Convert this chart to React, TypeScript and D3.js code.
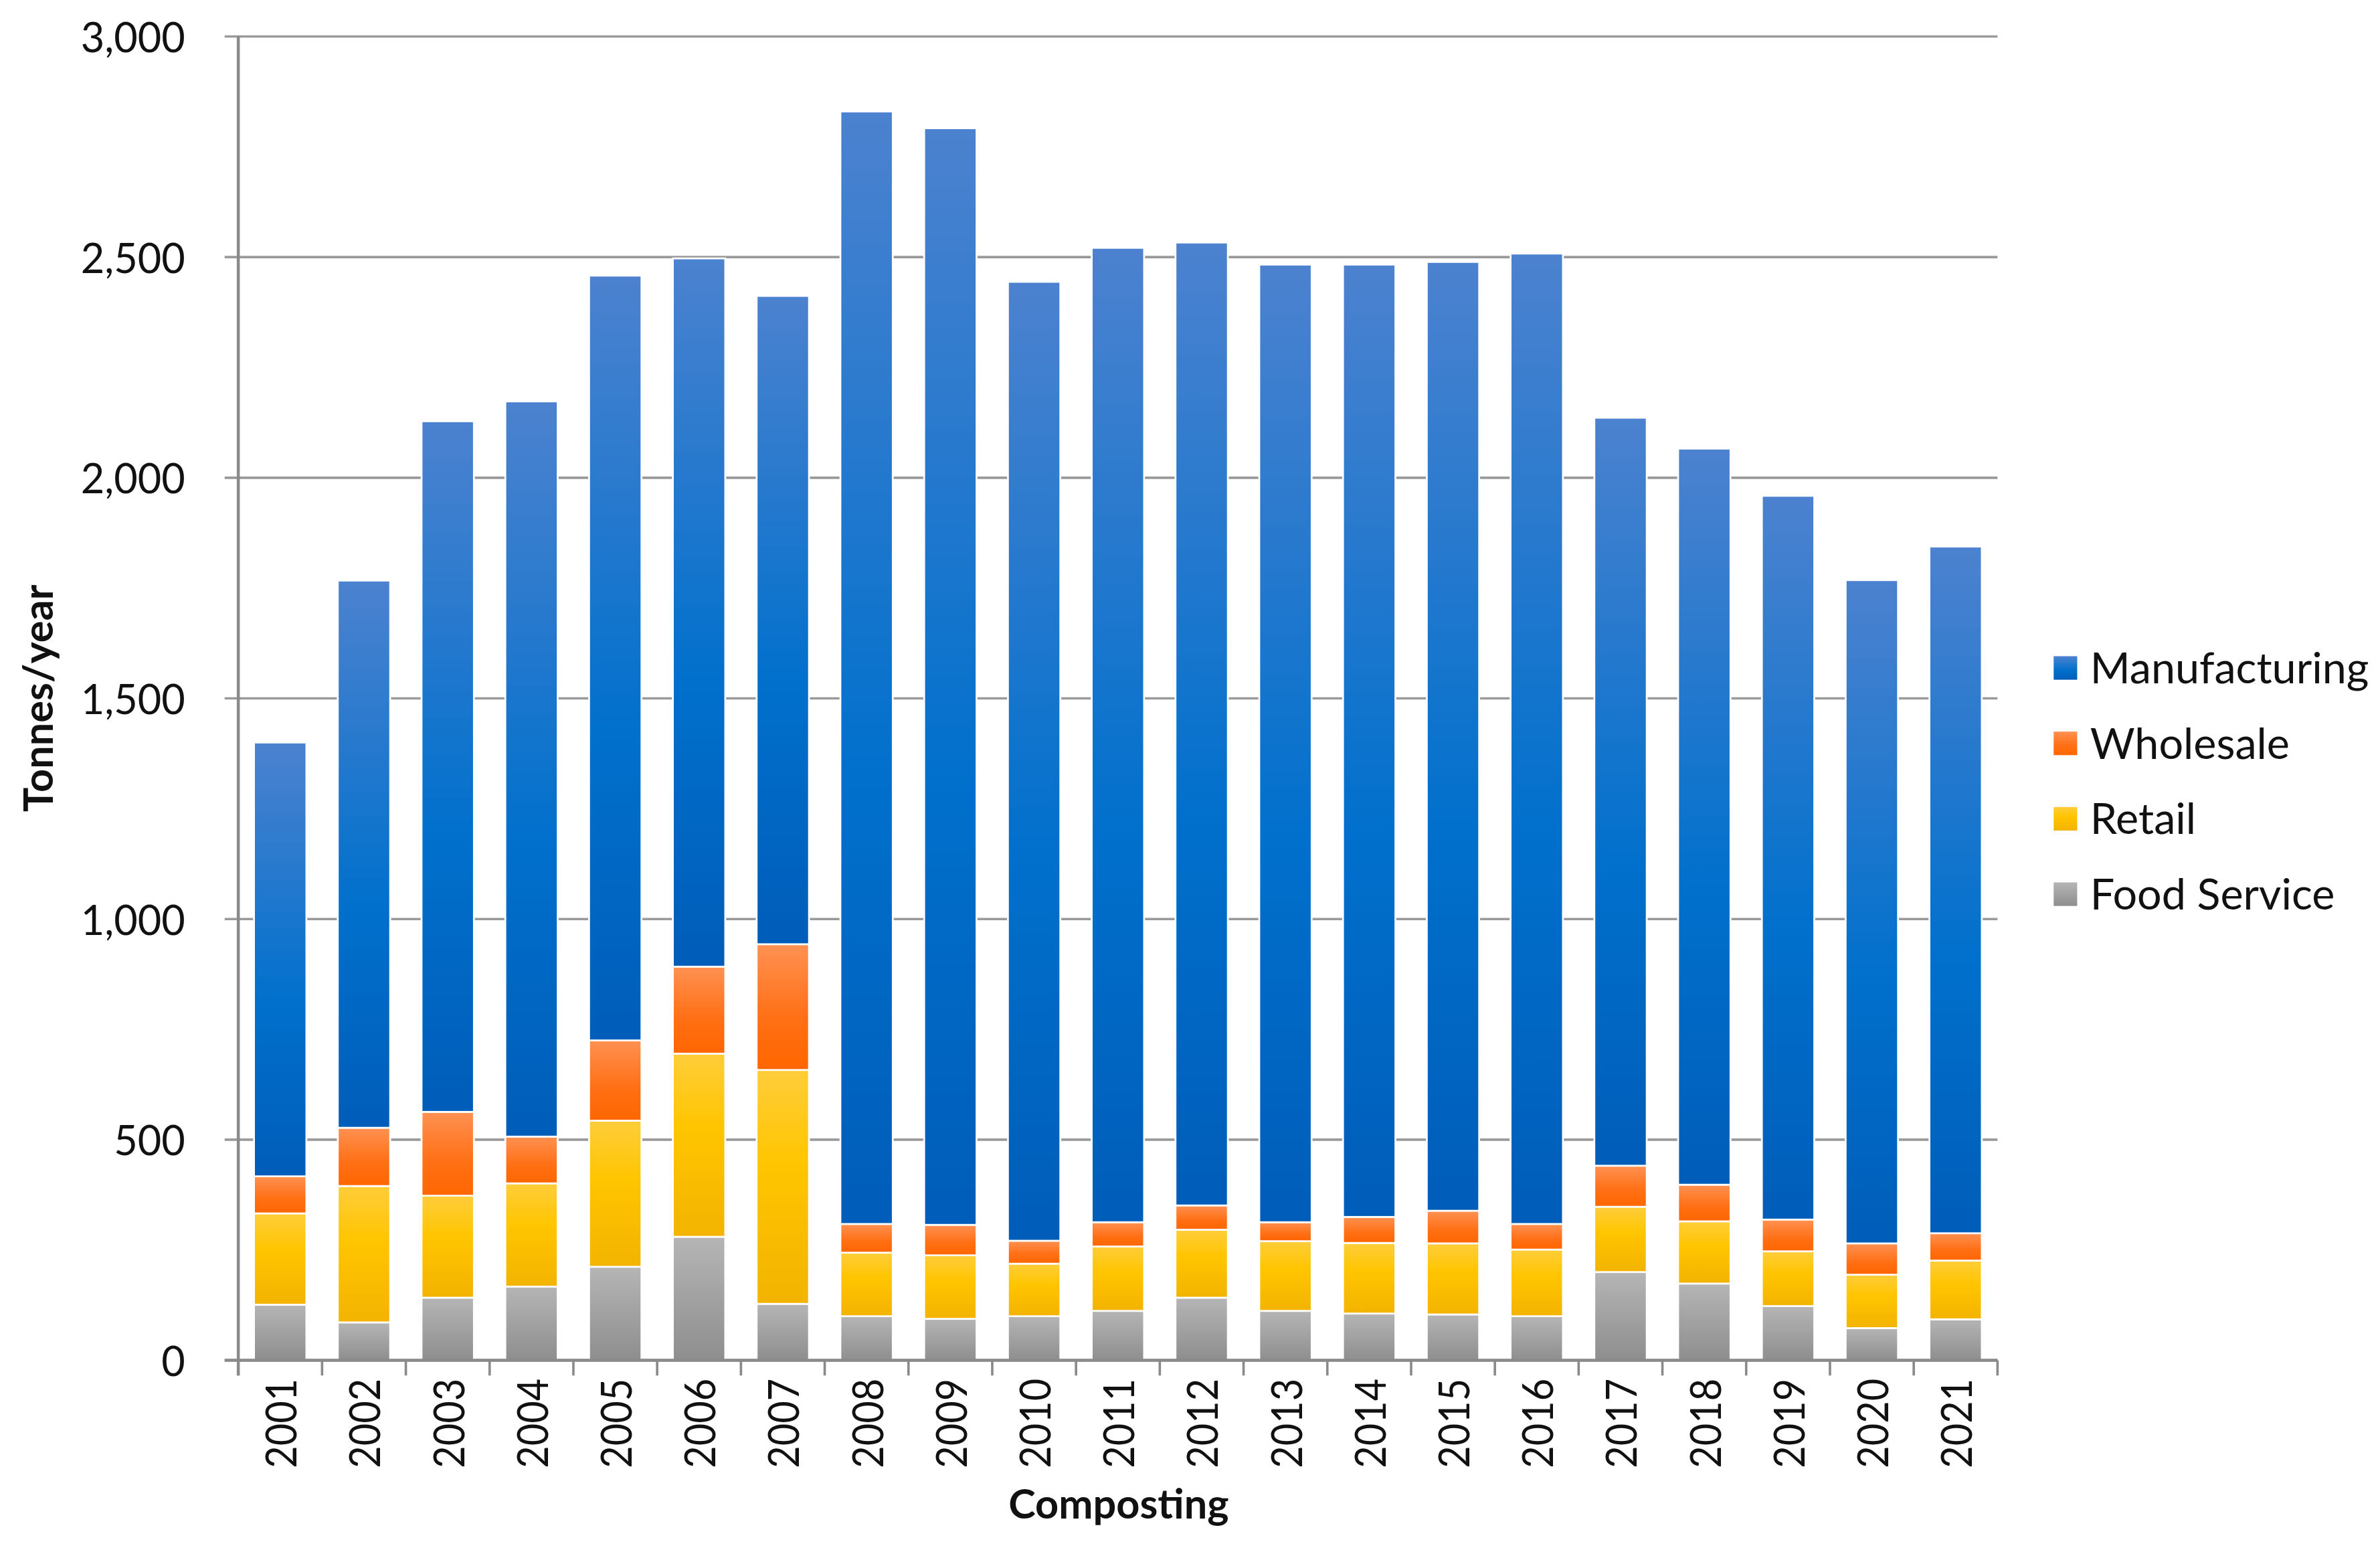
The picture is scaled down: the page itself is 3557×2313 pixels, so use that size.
import React from "react";
import * as d3 from "d3";

const years = ["2001","2002","2003","2004","2005","2006","2007","2008","2009","2010","2011","2012","2013","2014","2015","2016","2017","2018","2019","2020","2021"];
const foodService = [126, 86, 142, 167, 212, 280, 128, 100, 94, 100, 112, 142, 112, 106, 104, 100, 200, 174, 123, 73, 93];
const retail = [207, 309, 231, 234, 331, 415, 530, 144, 144, 119, 146, 154, 158, 160, 161, 151, 148, 141, 124, 121, 133];
const wholesale = [84, 132, 190, 106, 182, 197, 285, 65, 69, 52, 55, 55, 43, 59, 74, 58, 93, 83, 72, 71, 62];
const manufacturing = [983, 1240, 1565, 1666, 1733, 1605, 1469, 2521, 2485, 2173, 2208, 2182, 2170, 2158, 2150, 2199, 1695, 1668, 1640, 1503, 1556];
const seriesKeys = ["Food Service", "Retail", "Wholesale", "Manufacturing"];
const legendOrder = ["Manufacturing", "Wholesale", "Retail", "Food Service"];
const yTicks = [0, 500, 1000, 1500, 2000, 2500, 3000];
const yTitle = "Tonnes/year";
const xTitle = "Composting";

const gradStops: Record<string, [number, string][]> = {
  "Manufacturing": [[0, "#4C82CF"], [0.6, "#0070CC"], [1, "#005DB9"]],
  "Wholesale": [[0, "#FF9152"], [0.6, "#FF6F14"], [1, "#FF6600"]],
  "Retail": [[0, "#FFCD3A"], [0.4, "#FFC500"], [1, "#F3B300"]],
  "Food Service": [[0, "#B5B5B5"], [1, "#8E8E8E"]],
};
const gradId = (k: string) => "g-" + k.replace(/\s+/g, "");

const W = 1568;
const H = 1019.6;
const FONT = "Lato, 'Noto Sans', sans-serif";

export default function App() {
  const rows = years.map((y, i) => ({
    year: y,
    "Food Service": foodService[i],
    "Retail": retail[i],
    "Wholesale": wholesale[i],
    "Manufacturing": manufacturing[i],
  }));
  const stacked = d3.stack<any>().keys(seriesKeys)(rows);

  const x = d3.scaleBand<string>().domain(years).range([157, 1316]).paddingInner(0.375).paddingOuter(0.1875);
  const y = d3.scaleLinear().domain([0, 3000]).range([896, 24]);
  const step = x.step();
  const x0 = 157;

  const legendY = d3.scalePoint<string>().domain(legendOrder).range([440, 589]);

  return (
    <>
      <style>{`body{margin:0;background:#fff}`}</style>
      <svg width={3557} height={2313} viewBox={`0 0 ${W} ${H}`} style={{ display: "block", background: "#fff" }}>
        <defs>
          {seriesKeys.map((k) => (
            <linearGradient key={k} id={gradId(k)} x1="0" y1="0" x2="0" y2="1">
              {gradStops[k].map(([o, c], j) => (
                <stop key={j} offset={o} stopColor={c} />
              ))}
            </linearGradient>
          ))}
        </defs>

        {/* gridlines */}
        {yTicks.map((t) => (
          <line key={t} x1={148} x2={1316} y1={y(t)} y2={y(t)} stroke="#9A9A9A" strokeWidth={1.6} />
        ))}
        {/* y tick labels */}
        {yTicks.map((t) => (
          <text key={"l" + t} x={122} y={y(t)} textAnchor="end" dominantBaseline="central"
            fontFamily={FONT} fontSize={27} fill="#111">{d3.format(",")(t)}</text>
        ))}

        {/* bars */}
        {stacked.map((s) => (
          <g key={s.key} fill={`url(#${gradId(s.key)})`}>
            {s.map((d: any, i: number) => (
              <rect key={i} x={x(years[i])} width={x.bandwidth()} y={y(d[1])} height={y(d[0]) - y(d[1])}
                stroke="#ffffff" strokeWidth={1.2} />
            ))}
          </g>
        ))}

        {/* axes */}
        <line x1={x0} x2={x0} y1={y(3000)} y2={y(0) + 10} stroke="#8A8A8A" strokeWidth={2} />
        <line x1={148} x2={1316} y1={y(0)} y2={y(0)} stroke="#8A8A8A" strokeWidth={2} />
        {d3.range(years.length + 1).map((i) => (
          <line key={"t" + i} x1={x0 + i * step} x2={x0 + i * step} y1={y(0)} y2={y(0) + 10} stroke="#8A8A8A" strokeWidth={1.6} />
        ))}

        {/* x labels */}
        {years.map((yr) => {
          const cx = (x(yr) as number) + x.bandwidth() / 2;
          return (
            <text key={yr} transform={`translate(${cx},${908}) rotate(-90)`} textAnchor="end" dominantBaseline="central"
              fontFamily={FONT} fontSize={28} fill="#111" textLength={59} lengthAdjust="spacingAndGlyphs">{yr}</text>
          );
        })}

        {/* axis titles */}
        <text x={737} y={1000} textAnchor="middle" fontFamily={FONT} fontWeight="bold" fontSize={27} fill="#111">{xTitle}</text>
        <text transform={`translate(35,460) rotate(-90)`} textAnchor="middle" fontFamily={FONT} fontWeight="bold" fontSize={27} fill="#111">{yTitle}</text>

        {/* legend */}
        {legendOrder.map((k) => (
          <g key={k} transform={`translate(1353,${legendY(k)})`}>
            <rect x={0} y={-7.8} width={15.5} height={15.5} fill={`url(#${gradId(k)})`} />
            <text x={24} y={-1} dominantBaseline="central" fontFamily={FONT} fontSize={28.5} fill="#111">{k}</text>
          </g>
        ))}
      </svg>
    </>
  );
}
